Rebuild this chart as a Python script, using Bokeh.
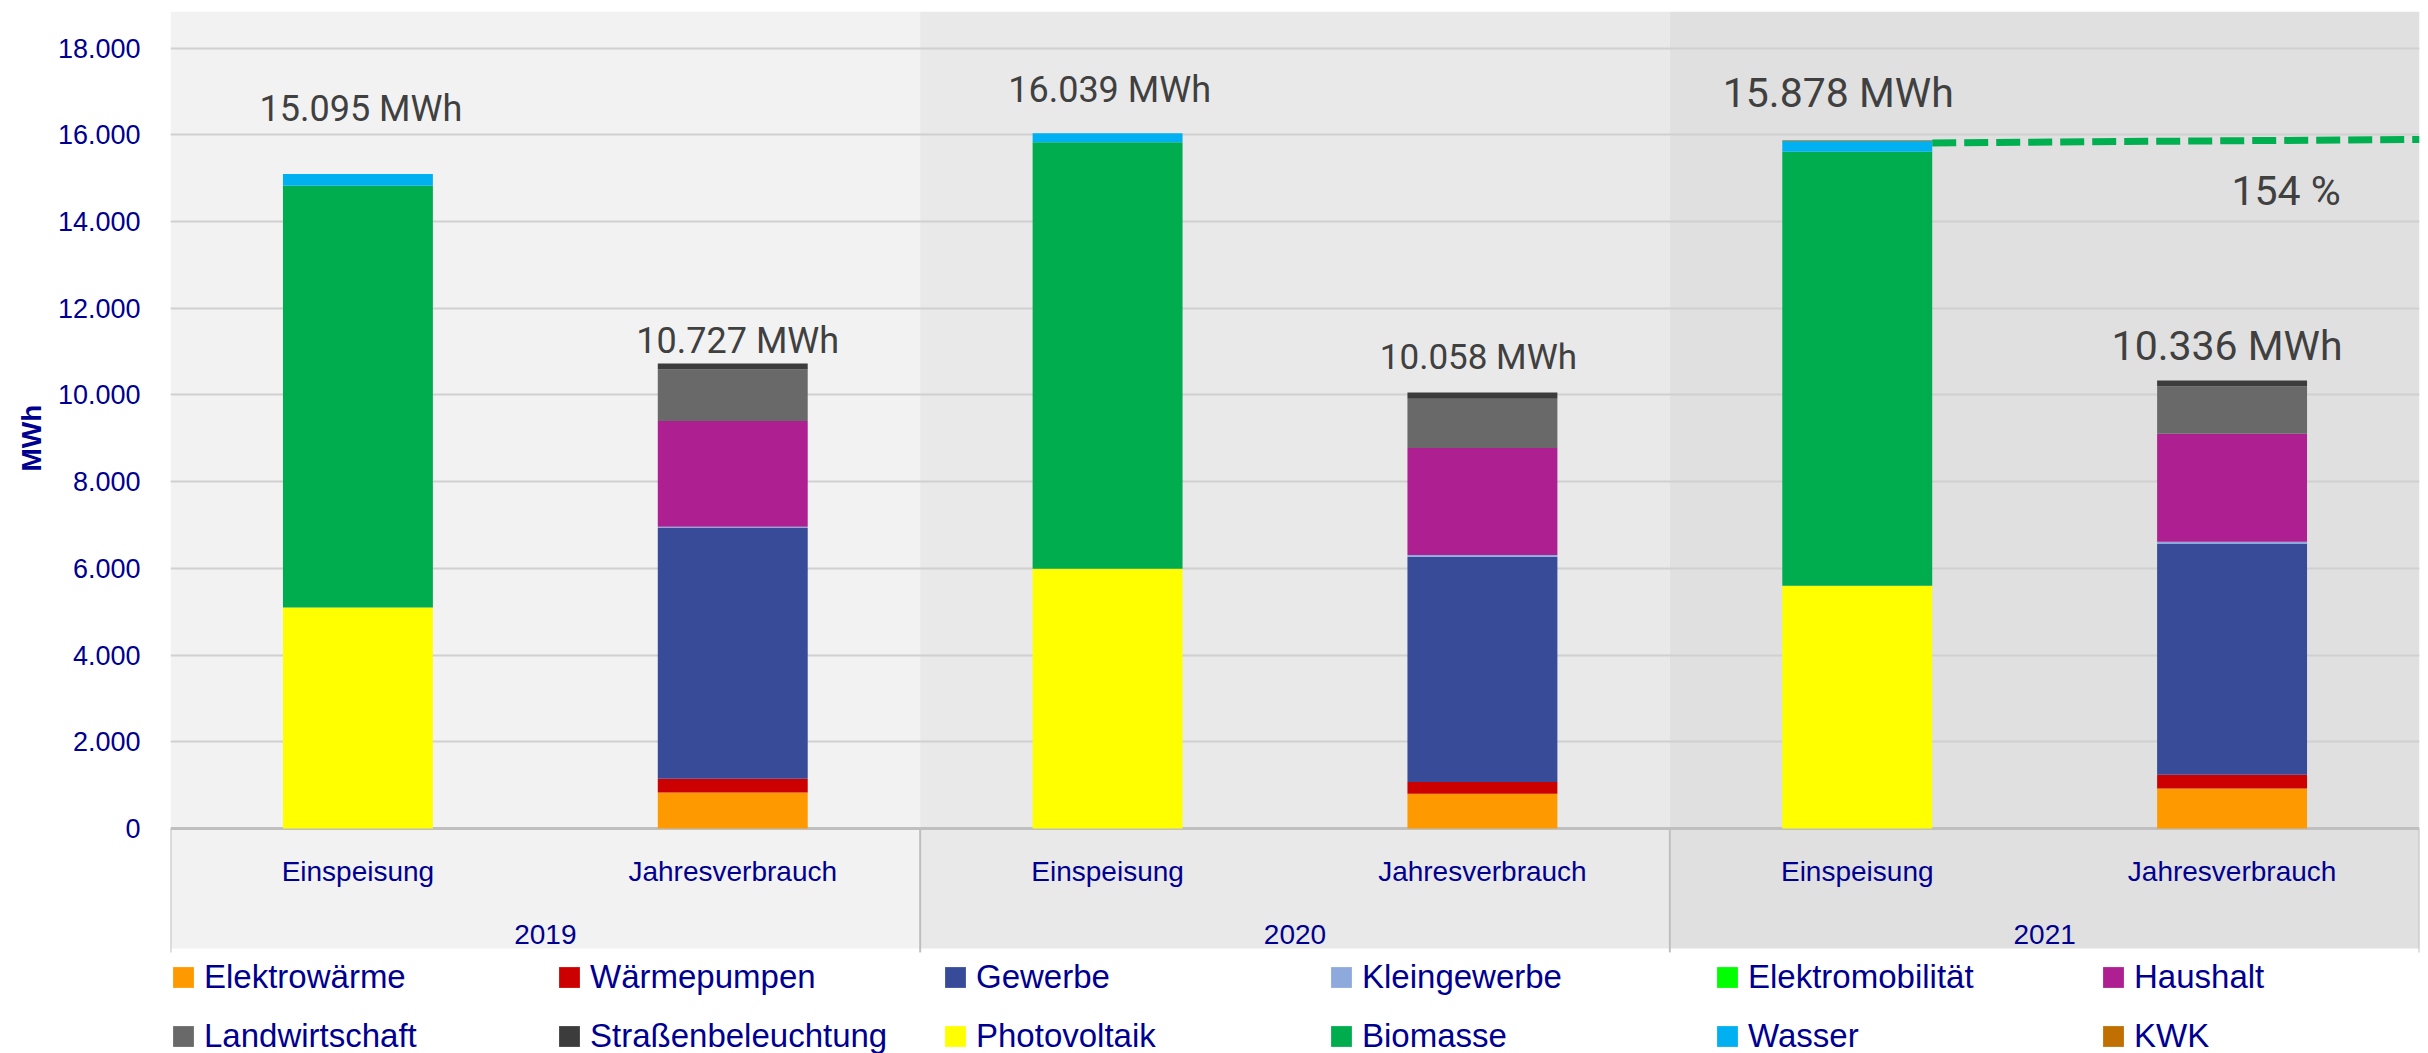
from bokeh.plotting import figure
from bokeh.models import ColumnDataSource, FactorRange, Range1d, FixedTicker, Title
from bokeh.core.properties import value
from bokeh.embed import file_html
from bokeh.resources import INLINE

# ---------------- data ----------------
years = ["2019", "2020", "2021"]
kinds = ["Einspeisung", "Jahresverbrauch"]

# one value per bar: 2019 Einsp., 2019 Jahresv., 2020 Einsp., 2020 Jahresv., 2021 Einsp., 2021 Jahresv.
elektrowaerme = [0, 830, 0, 800, 0, 925]
waermepumpen = [0, 320, 0, 270, 0, 315]
gewerbe = [0, 5780, 0, 5200, 0, 5320]
kleingewerbe = [0, 30, 0, 40, 0, 55]
elektromobilitaet = [0, 0, 0, 0, 0, 0]
haushalt = [0, 2440, 0, 2470, 0, 2490]
landwirtschaft = [0, 1190, 0, 1135, 0, 1095]
strassenbeleuchtung = [0, 137, 0, 143, 0, 136]
photovoltaik = [5100, 0, 5990, 0, 5600, 0]
biomasse = [9725, 0, 9842, 0, 10010, 0]
wasser = [270, 0, 207, 0, 248, 0]
kwk = [0, 0, 0, 0, 20, 0]

series_names = ["Elektrowärme", "Wärmepumpen", "Gewerbe", "Kleingewerbe",
                "Elektromobilität", "Haushalt", "Landwirtschaft", "Straßenbeleuchtung",
                "Photovoltaik", "Biomasse", "Wasser", "KWK"]
series_values = [elektrowaerme, waermepumpen, gewerbe, kleingewerbe,
                 elektromobilitaet, haushalt, landwirtschaft, strassenbeleuchtung,
                 photovoltaik, biomasse, wasser, kwk]
series_colors = ["#FF9900", "#CC0000", "#374B99", "#8EAADC",
                 "#00FF00", "#AE1F91", "#696969", "#3C3C3C",
                 "#FFFF00", "#00AD4E", "#00B0F0", "#C07000"]

y_ticks = [0, 2000, 4000, 6000, 8000, 10000, 12000, 14000, 16000, 18000]

# ---------------- layout / style constants ----------------
NAVY = "#000090"
LABEL_GREY = "#404040"
band_colors = ["#F2F2F2", "#E9E9E9", "#E0E0E0"]
table_bottom = -2768          # lower edge of the category table (data units)
y_top = 18846
y_bottom = -5190
bar_width = 0.4

factors = [(y, k) for y in years for k in kinds]
keys = ["s%d" % i for i in range(len(series_names))]

data = {"x": factors}
for k, v in zip(keys, series_values):
    data[k] = v
src = ColumnDataSource(data)

totals = [sum(s[i] for s in series_values) for i in range(len(factors))]
total_text = [f"{t:,}".replace(",", ".") + " MWh" for t in totals]
share = round(totals[4] / totals[5] * 100)

p = figure(width=2428, height=1053,
           x_range=FactorRange(factors=factors, factor_padding=0, group_padding=0,
                               subgroup_padding=0, range_padding=0),
           y_range=Range1d(y_bottom, y_top),
           output_backend="svg", toolbar_location=None, x_axis_location=None,
           min_border_left=170, min_border_right=9, min_border_top=11, min_border_bottom=0,
           background_fill_color="white", border_fill_color="white",
           outline_line_color=None)

# year bands (plot area + category table)
n = len(kinds)
band_left = [i * n for i in range(len(years))]
band_right = [(i + 1) * n for i in range(len(years))]
p.quad(left=band_left, right=band_right, bottom=table_bottom, top=y_top,
       fill_color=band_colors, line_color=None, level="image")

# grid
p.xgrid.grid_line_color = None
p.ygrid.ticker = FixedTicker(ticks=y_ticks[1:])
p.ygrid.grid_line_color = "#D0D0D0"
p.ygrid.grid_line_width = 2

# table separators and zero line
sep_x = [i * n for i in range(len(years) + 1)]
p.segment(x0=sep_x, y0=[0] * len(sep_x), x1=sep_x, y1=[table_bottom - 90] * len(sep_x),
          line_color="#BFBFBF", line_width=2)
p.line(x=[0, len(factors)], y=[0, 0], line_color="#BFBFBF", line_width=3)

# stacked bars
p.vbar_stack(keys, x="x", width=bar_width, source=src, fill_color=series_colors,
             line_color=None, legend_label=series_names)

# category labels
p.text(x=factors, y=[-1223] * len(factors), text=[f[1] for f in factors], y_offset=-10,
       text_align="center", text_baseline="alphabetic",
       text_font=value("Liberation Sans"), text_font_size="28px", text_color=NAVY)
p.text(x=years, y=[-2623] * len(years), text=years, y_offset=-8,
       text_align="center", text_baseline="alphabetic",
       text_font=value("Liberation Sans"), text_font_size="28px", text_color=NAVY)

# total labels
lbl = ColumnDataSource(dict(
    x=factors,
    y=[16350, 10983, 16793, 10604, 16717, 10886],
    text=total_text,
    fs=["36px", "36px", "36px", "35px", "41px", "41px"],
    xo=[3, 5, 2, -4, -19, -5],
))
p.text(x="x", y="y", text="text", text_font_size="fs", x_offset="xo", y_offset=-11,
       source=lbl, text_align="center", text_baseline="alphabetic",
       text_font=value("Roboto"), text_color=LABEL_GREY)

# ratio line and percentage
dash_x = [4 + 0.5 + bar_width / 2, len(factors)]
dash_y = [15815, 15895]
p.line(x=dash_x, y=dash_y, line_color="#00B050", line_width=7, line_dash="24 8")
p.text(x=[factors[5]], y=[14410], text=[f"{share} %"], x_offset=54, y_offset=-13,
       text_align="center", text_baseline="alphabetic",
       text_font=value("Roboto"), text_font_size="41px", text_color=LABEL_GREY)

# y axis
ax = p.yaxis[0]
ax.ticker = FixedTicker(ticks=y_ticks)
ax.major_label_overrides = {t: f"{t:,}".replace(",", ".") for t in y_ticks}
ax.axis_line_color = None
ax.major_tick_line_color = None
ax.minor_tick_line_color = None
ax.major_tick_out = 0
ax.major_label_standoff = 30
ax.major_label_text_font = "Liberation Sans"
ax.major_label_text_font_size = "27px"
ax.major_label_text_color = NAVY

# y axis title (left-side title, start of the text lifted to the value area)
p.add_layout(Title(text="MWh", align="left", offset=582, standoff=16,
                   text_font="Liberation Sans", text_font_style="bold",
                   text_font_size="28px", text_color=NAVY), "left")

# legend
lg = p.legend[0]
lg.orientation = "horizontal"
lg.ncols = 6
lg.location = (0, -2)
lg.label_width = 331
lg.label_height = 34
lg.glyph_width = 26
lg.glyph_height = 26
lg.label_standoff = 8
lg.spacing = 21
lg.padding = 0
lg.margin = 0
lg.border_line_color = None
lg.background_fill_alpha = 0
lg.label_text_font = "Liberation Sans"
lg.label_text_font_size = "33px"
lg.label_text_color = NAVY

open("out.html", "w").write(file_html(p, INLINE))
